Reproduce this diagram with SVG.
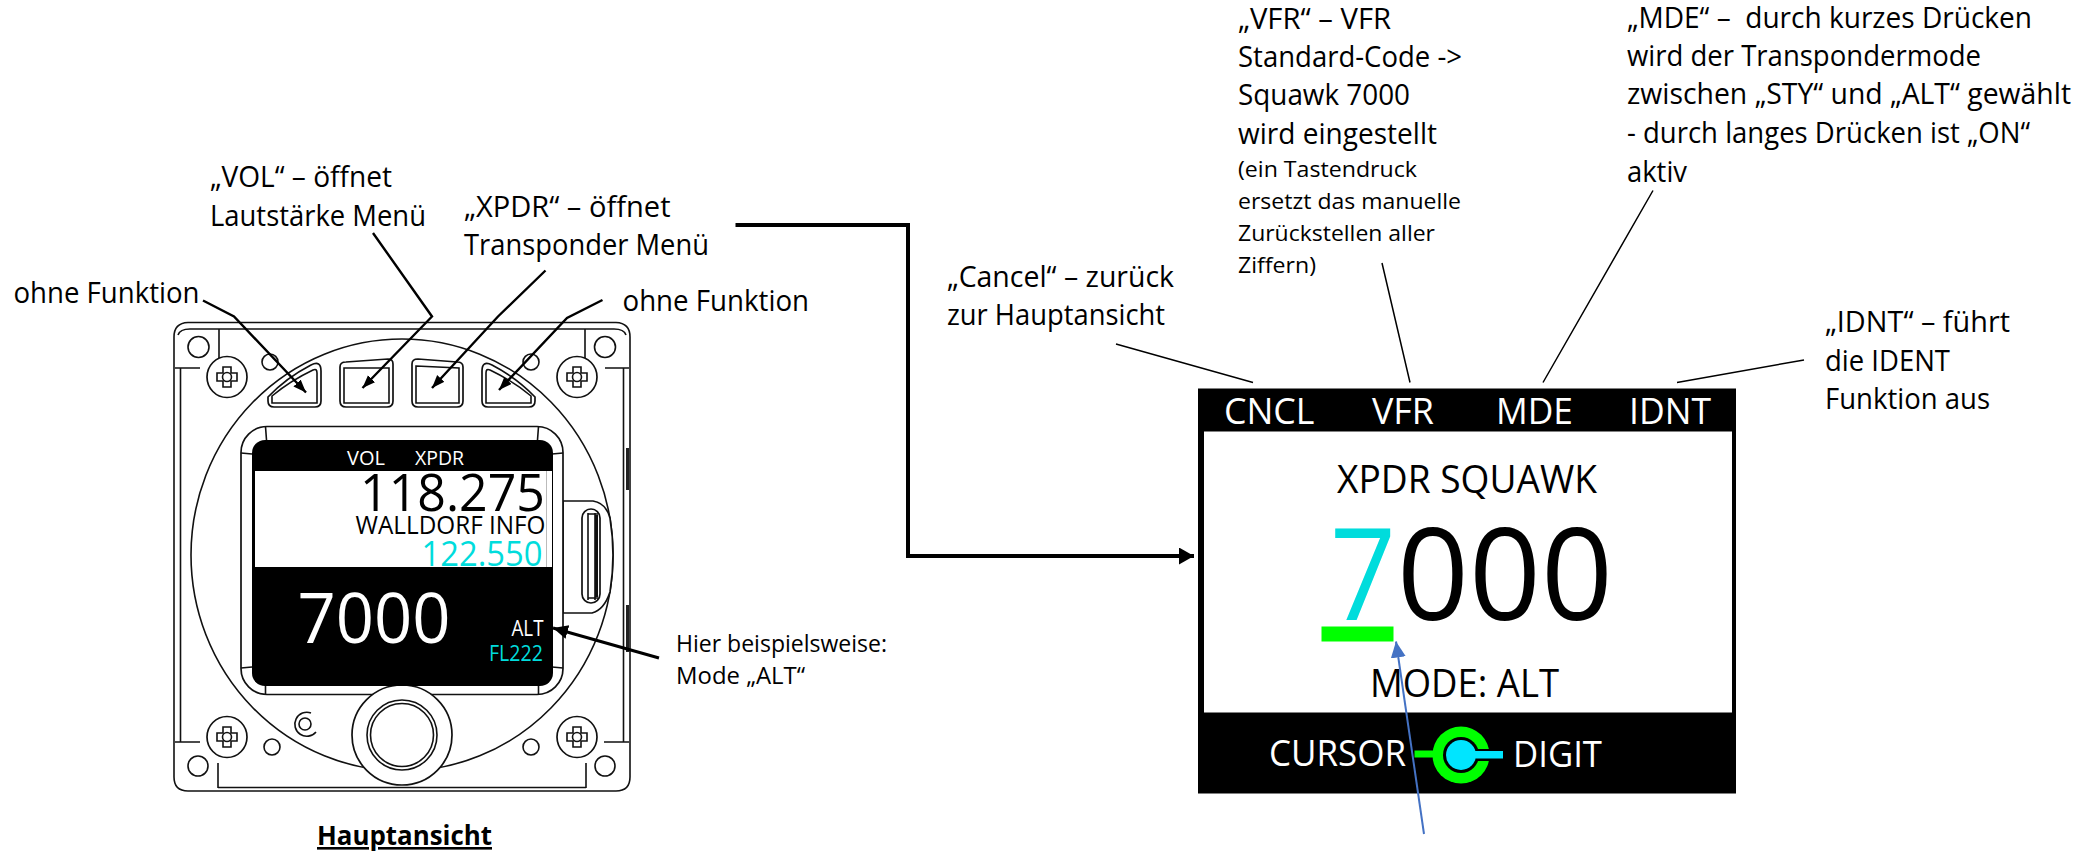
<svg xmlns="http://www.w3.org/2000/svg" width="2093" height="853" viewBox="0 0 2093 853">
<style>
text{font-family:"Open Sans","Noto Sans","Liberation Sans",sans-serif;fill:#000}
.l{font-size:29px}.s{font-size:22px}.w{fill:#fff}.c{fill:#00dcdc}
.d{fill:none;stroke:#111;stroke-width:1.6}
.f{fill:#fff;stroke:#111;stroke-width:1.7}
.t{fill:none;stroke:#000;stroke-width:1.5}
.a{fill:none;stroke:#000;stroke-width:2.4;marker-end:url(#sm)}
</style>
<defs>
<marker id="sm" markerUnits="userSpaceOnUse" markerWidth="14" markerHeight="12" refX="13" refY="5" orient="auto"><path d="M0 0L13 5L0 10Z" fill="#000"/></marker>
<marker id="big" markerUnits="userSpaceOnUse" markerWidth="16" markerHeight="18" refX="15" refY="8.5" orient="auto"><path d="M0 0L15 8.5L0 17Z" fill="#000"/></marker>
<marker id="alt" markerUnits="userSpaceOnUse" markerWidth="16" markerHeight="16" refX="15" refY="7" orient="auto"><path d="M0 0L15 7L0 14Z" fill="#000"/></marker>
<marker id="blue" markerUnits="userSpaceOnUse" markerWidth="17" markerHeight="16" refX="16" refY="7.5" orient="auto"><path d="M0 0L16 7.5L0 15Z" fill="#4472c4"/></marker>
<g id="screw"><ellipse cx="0" cy="0" rx="20" ry="20.5" class="f"/><path d="M-4 -10H4V-4H10V4H4V10H-4V4H-10V-4H-4Z" class="d"/><circle r="4.5" class="d"/></g>
</defs>

<g id="device">
<path class="d" d="M188 322.5H616Q630 323 630 337V777Q630 791 616 791H188Q174 791 174 777V337Q174 323 188 322.5Z"/>
<path class="d" d="M178 335Q180 329 190 329H614Q624 329 626 335M175 368H200M605 368H629M180.500 368V742M623.500 368V742M219 329V363M585 329V363M175 742H200M604 742H629M218 763V788M586 763V788M218 787.500H586"/>
<path d="M627.500 448V490M627.500 605V652" stroke="#222" stroke-width="3" fill="none"/>
<circle cx="198.500" cy="347" r="10.500" class="d"/><circle cx="605" cy="347" r="10.500" class="d"/>
<circle cx="198" cy="766" r="10" class="d"/><circle cx="605" cy="766" r="10" class="d"/>
<circle cx="270" cy="362" r="8" class="d"/><circle cx="531" cy="362" r="8" class="d"/>
<circle cx="272" cy="747" r="8" class="d"/><circle cx="531" cy="747" r="8" class="d"/>
<ellipse cx="402" cy="555" rx="211" ry="216" class="d"/>
<use href="#screw" x="227" y="377"/><use href="#screw" x="577" y="377"/>
<use href="#screw" x="227" y="737"/><use href="#screw" x="577" y="737"/>
<circle cx="305" cy="724" r="6" class="d"/><path class="d" d="M311 713A12 12 0 1 0 316 732"/>
<path class="f" d="M563 501H593Q606 503 610 518Q616 555 610 592Q604 610 592 613H563Z"/>
<rect x="582" y="509" width="18" height="94" rx="9" class="f"/>
<path class="d" d="M588 513V600M595 513V600M588 514H598M588 598H598"/>
<rect x="595" y="515" width="3" height="82" fill="#111"/>
<rect x="241" y="426.500" width="322" height="268" rx="26" class="f"/>
<path class="d" d="M265.500 426.500L266.500 440M241 453L252 454M538.500 426.500L537.500 440M563 453L552 454M241 668L252 667M563 668L552 667M265.500 694.500V685M538.500 694.500V685"/>
<g id="btn1"><path class="f" d="M268 397Q286 378 311 365Q321 360 321 371V401Q321 407 315 407H274Q268 407 268 401Z"/><path class="d" d="M272 396Q290 381 313 370Q317 368 317 373V403H272Z"/></g>
<g id="btn2"><path class="f" d="M340 367Q340 362 346 362L388 359Q393 359 393 364V401Q393 407 387 407H346Q340 407 340 401Z"/><path class="d" d="M344 368H389V403H344Z"/></g>
<g id="btn3"><path class="f" d="M412 364Q412 359 418 359L457 362Q463 362 463 367V401Q463 407 457 407H418Q412 407 412 401Z"/><path class="d" d="M416 366L459 368V403H416Z"/></g>
<g id="btn4"><path class="f" d="M535 397Q517 378 492 365Q482 360 482 371V401Q482 407 488 407H529Q535 407 535 401Z"/><path class="d" d="M531 396Q513 381 490 370Q486 368 486 373V403H531Z"/></g>
<g id="knob"><circle cx="402" cy="735" r="50" class="f"/><circle cx="402" cy="735" r="35" class="d"/><circle cx="402" cy="735" r="31.500" class="d"/></g>
</g>

<g id="main-screen">
<rect x="252" y="440" width="301" height="246" rx="13" fill="#000"/>
<rect x="255" y="471" width="297" height="96" fill="#fff"/>
<path d="M546.500 471V567" stroke="#bbb" stroke-width="1"/>
<text x="347" y="465" font-size="20" class="w" textLength="38" lengthAdjust="spacingAndGlyphs">VOL</text>
<text x="415" y="465" font-size="20" class="w" textLength="49" lengthAdjust="spacingAndGlyphs">XPDR</text>
<text x="360" y="510.500" font-size="52" textLength="185" lengthAdjust="spacingAndGlyphs">118.275</text>
<text x="355.500" y="534" font-size="25" textLength="190" lengthAdjust="spacingAndGlyphs">WALLDORF INFO</text>
<text x="421.500" y="565.500" font-size="35" class="c" textLength="121" lengthAdjust="spacingAndGlyphs">122.550</text>
<text x="297.500" y="643" font-size="70" class="w" textLength="153" lengthAdjust="spacingAndGlyphs">7000</text>
<text x="511.500" y="636" font-size="21" class="w" textLength="32" lengthAdjust="spacingAndGlyphs">ALT</text>
<text x="489" y="661" font-size="21" class="c" textLength="54" lengthAdjust="spacingAndGlyphs">FL222</text>
</g>

<g id="xpdr-screen">
<rect x="1198" y="388.500" width="538" height="405" fill="#000"/>
<rect x="1204" y="431.500" width="528" height="281" fill="#fff"/>
<text x="1224" y="424" font-size="36" class="w" textLength="90.500" lengthAdjust="spacingAndGlyphs">CNCL</text>
<text x="1372" y="424" font-size="36" class="w" textLength="62" lengthAdjust="spacingAndGlyphs">VFR</text>
<text x="1496" y="424" font-size="36" class="w" textLength="77" lengthAdjust="spacingAndGlyphs">MDE</text>
<text x="1629" y="424" font-size="36" class="w" textLength="82" lengthAdjust="spacingAndGlyphs">IDNT</text>
<text x="1337" y="492.500" font-size="38" textLength="260" lengthAdjust="spacingAndGlyphs">XPDR SQUAWK</text>
<text x="1330" y="620" font-size="128" class="c" textLength="66" lengthAdjust="spacingAndGlyphs">7</text>
<text x="1397" y="620" font-size="128" textLength="216" lengthAdjust="spacingAndGlyphs">000</text>
<rect x="1321.500" y="626.500" width="72" height="15" fill="#00ff00"/>
<text x="1370" y="696.500" font-size="38" textLength="189" lengthAdjust="spacingAndGlyphs">MODE: ALT</text>
<text x="1269" y="765.500" font-size="36" class="w" textLength="137" lengthAdjust="spacingAndGlyphs">CURSOR</text>
<text x="1513" y="767" font-size="36" class="w" textLength="89" lengthAdjust="spacingAndGlyphs">DIGIT</text>
<rect x="1414.500" y="750.500" width="24" height="7" fill="#00ff00"/>
<circle cx="1461" cy="755" r="28.500" fill="#00ff00"/>
<circle cx="1461" cy="755" r="18" fill="#000"/>
<rect x="1470" y="749" width="26" height="12" fill="#000"/>
<circle cx="1461" cy="755" r="15" fill="#00e5ff"/>
<rect x="1470" y="751" width="33" height="7.500" fill="#00e5ff"/>
</g>

<g id="connectors">
<path class="t" d="M1116 344L1253 382.500M1382 263L1410 382.500M1653 190.500L1543 382.500M1804 360L1677 382.500"/>
<path class="a" d="M203 300.500L234 316.500L306 392.500"/>
<path class="a" d="M373 233L432 316.500L362.500 388"/>
<path class="a" d="M545.500 270.500L498 316.500L432 388"/>
<path class="a" d="M602.500 300L567 318L499 390"/>
<path d="M735.500 225H908V556H1194" fill="none" stroke="#000" stroke-width="4" marker-end="url(#big)"/>
<path d="M659 658L553 628" fill="none" stroke="#000" stroke-width="3" marker-end="url(#alt)"/>
<path d="M1424 834L1396 641.500" fill="none" stroke="#4472c4" stroke-width="2" marker-end="url(#blue)"/>
</g>

<g id="labels">
<text class="l" x="13.500" y="302.500" textLength="186" lengthAdjust="spacingAndGlyphs">ohne Funktion</text>
<text class="l" x="210" y="187" textLength="182" lengthAdjust="spacingAndGlyphs">„VOL“ – öffnet</text>
<text class="l" x="210" y="226" textLength="216" lengthAdjust="spacingAndGlyphs">Lautstärke Menü</text>
<text class="l" x="464" y="216.500" textLength="206.500" lengthAdjust="spacingAndGlyphs">„XPDR“ – öffnet</text>
<text class="l" x="464" y="255" textLength="245" lengthAdjust="spacingAndGlyphs">Transponder Menü</text>
<text class="l" x="622.500" y="310.500" textLength="186.500" lengthAdjust="spacingAndGlyphs">ohne Funktion</text>
<text x="676" y="651.500" font-size="23" textLength="211" lengthAdjust="spacingAndGlyphs">Hier beispielsweise:</text>
<text x="676" y="684" font-size="23" textLength="129" lengthAdjust="spacingAndGlyphs">Mode „ALT“</text>
<text x="317" y="845" font-size="26" font-weight="700" text-decoration="underline" textLength="175" lengthAdjust="spacingAndGlyphs">Hauptansicht</text>
<text class="l" x="947" y="287" textLength="227" lengthAdjust="spacingAndGlyphs">„Cancel“ – zurück</text>
<text class="l" x="947" y="325" textLength="218" lengthAdjust="spacingAndGlyphs">zur Hauptansicht</text>
<text class="l" x="1238" y="28.500" textLength="153" lengthAdjust="spacingAndGlyphs">„VFR“ – VFR</text>
<text class="l" x="1238" y="66.500" textLength="224" lengthAdjust="spacingAndGlyphs">Standard-Code -&gt;</text>
<text class="l" x="1238" y="105" textLength="172" lengthAdjust="spacingAndGlyphs">Squawk 7000</text>
<text class="l" x="1238" y="143.500" textLength="199" lengthAdjust="spacingAndGlyphs">wird eingestellt</text>
<text class="s" x="1238" y="176.500" textLength="179" lengthAdjust="spacingAndGlyphs">(ein Tastendruck</text>
<text class="s" x="1238" y="209" textLength="223" lengthAdjust="spacingAndGlyphs">ersetzt das manuelle</text>
<text class="s" x="1238" y="240.500" textLength="197" lengthAdjust="spacingAndGlyphs">Zurückstellen aller</text>
<text class="s" x="1238" y="272.500" textLength="78" lengthAdjust="spacingAndGlyphs">Ziffern)</text>
<text class="l" x="1627" y="27.500" xml:space="preserve" textLength="405" lengthAdjust="spacingAndGlyphs">„MDE“ –  durch kurzes Drücken</text>
<text class="l" x="1627" y="66" textLength="354" lengthAdjust="spacingAndGlyphs">wird der Transpondermode</text>
<text class="l" x="1627" y="104" textLength="444" lengthAdjust="spacingAndGlyphs">zwischen „STY“ und „ALT“ gewählt</text>
<text class="l" x="1627" y="143" textLength="403" lengthAdjust="spacingAndGlyphs">- durch langes Drücken ist „ON“</text>
<text class="l" x="1627" y="181.500" textLength="60" lengthAdjust="spacingAndGlyphs">aktiv</text>
<text class="l" x="1825" y="331.500" textLength="185" lengthAdjust="spacingAndGlyphs">„IDNT“ – führt</text>
<text class="l" x="1825" y="370.500" textLength="125" lengthAdjust="spacingAndGlyphs">die IDENT</text>
<text class="l" x="1825" y="408.500" textLength="165" lengthAdjust="spacingAndGlyphs">Funktion aus</text>
</g>
</svg>
